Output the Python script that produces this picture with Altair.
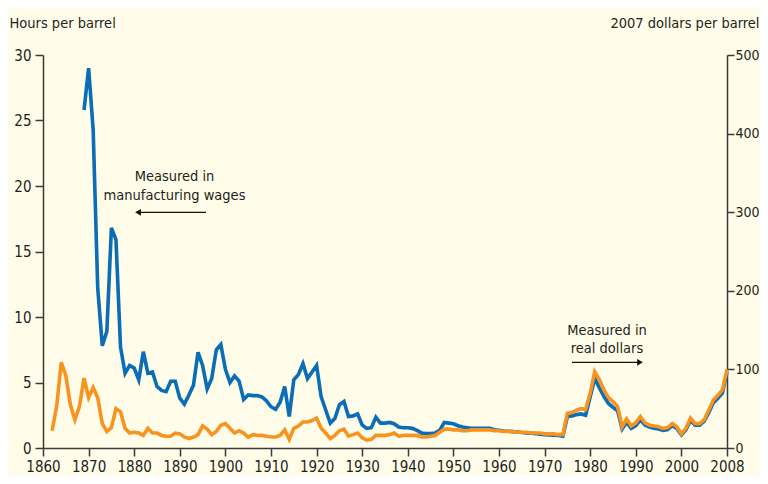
import altair as alt
import pandas as pd

# ---- data ----
orange_start = 1862  # 2007 dollars per barrel (right axis)
orange_dollars = [
    22, 53, 109, 92, 55, 36, 53, 89, 64, 77,
    64, 31, 21, 26, 50, 46, 25, 19, 20, 19,
    16, 25, 19, 19, 16, 15, 15, 19, 18, 14,
    12, 14, 17, 28, 24, 17, 21, 29, 31, 25,
    19, 22, 19, 14, 17, 16, 16, 15, 14, 14,
    16, 23, 11, 25, 28, 33, 33, 35, 38, 25,
    19, 12, 16, 22, 24, 15, 17, 19, 13, 10,
    11, 16, 16, 16, 17, 19, 15, 16, 16, 16,
    16, 14, 14, 15, 16, 20, 24, 24, 23, 23,
    22, 22, 23, 23, 23, 23, 23, 22, 22, 21,
    21, 21, 20, 20, 20, 19, 19, 19, 18, 18,
    18, 17, 17, 44, 45, 48, 50, 49, 70, 97,
    87, 74, 64, 59, 53, 27, 37, 28, 32, 40,
    32, 29, 28, 27, 25, 26, 31, 27, 18, 25,
    38, 31, 31, 36, 48, 61, 67, 74, 100,
]

blue_start = 1869  # hours of manufacturing work per barrel (left axis)
blue_hours = [
    25.8, 29.0, 24.3, 12.2, 7.8, 8.9, 16.8, 15.9, 7.7, 5.7,
    6.3, 6.1, 5.2, 7.35, 5.7, 5.8, 4.7, 4.4, 4.3, 5.1,
    5.1, 3.8, 3.35, 4.05, 4.8, 7.3, 6.3, 4.5, 5.3, 7.5,
    7.9, 6.0, 5.0, 5.5, 5.1, 3.7, 4.05, 4.0, 4.0, 3.9,
    3.6, 3.15, 2.95, 3.5, 4.7, 2.4, 5.2, 5.6, 6.45, 5.3,
    5.8, 6.3, 3.9, 2.9, 1.9, 2.25, 3.3, 3.55, 2.4, 2.45,
    2.6, 1.75, 1.5, 1.55, 2.35, 1.9, 1.9, 1.95, 1.85, 1.6,
    1.55, 1.55, 1.5, 1.35, 1.15, 1.1, 1.1, 1.15, 1.35, 1.95,
    1.9, 1.85, 1.7, 1.6, 1.55, 1.5, 1.5, 1.5, 1.5, 1.5,
    1.4, 1.35, 1.3, 1.28, 1.25, 1.22, 1.18, 1.15, 1.12, 1.1,
    1.05, 1.02, 1.0, 0.98, 0.95, 0.9, 2.4, 2.45, 2.55, 2.6,
    2.5, 3.9, 5.3, 4.6, 3.95, 3.4, 3.1, 2.85, 1.45, 1.95,
    1.5, 1.7, 2.15, 1.75, 1.6, 1.5, 1.45, 1.35, 1.4, 1.7,
    1.5, 1.0, 1.4, 2.1, 1.75, 1.75, 2.05, 2.7, 3.45, 3.8,
    4.2, 5.8,
]

x_ticks = [1860, 1870, 1880, 1890, 1900, 1910, 1920, 1930, 1940, 1950,
           1960, 1970, 1980, 1990, 2000, 2010]
left_ticks = [0, 5, 10, 15, 20, 25, 30]
right_ticks = [0, 100, 200, 300, 400, 500]

orange_df = pd.DataFrame({
    "year": list(range(orange_start, orange_start + len(orange_dollars))),
    "dollars": orange_dollars,
})
blue_df = pd.DataFrame({
    "year": list(range(blue_start, blue_start + len(blue_hours))),
    "hours": blue_hours,
})

FONT = "DejaVu Sans Condensed, Liberation Sans Narrow, Roboto, sans-serif"
TXT = "#231f20"
AX = "#3a3a3a"
BLUE = "#0a6db5"
ORANGE = "#f7931e"

W, H = 684, 393

x_enc = alt.X(
    "year:Q",
    scale=alt.Scale(domain=[1860, 2010], nice=False, zero=False),
    axis=alt.Axis(
        values=x_ticks, format="d",
        labelExpr="datum.value == 2010 ? '2008' : datum.label",
        title=None, grid=False, tickSize=8, tickWidth=1.5, tickColor=AX,
        domainColor=AX, domainWidth=1.5, labelFontSize=15, labelFont=FONT,
        labelColor=TXT, labelPadding=3, labelOverlap=False, labelFlush=False,
    ),
)

blue_line = alt.Chart(blue_df).mark_line(
    color=BLUE, strokeWidth=3.6, strokeJoin="miter"
).encode(
    x=x_enc,
    y=alt.Y(
        "hours:Q",
        scale=alt.Scale(domain=[0, 30], nice=False),
        axis=alt.Axis(
            values=left_ticks, orient="left", grid=False, tickSize=8,
            tickWidth=1.5, tickColor=AX, domainColor=AX, domainWidth=1.5,
            labelFontSize=15, labelFont=FONT, labelColor=TXT, labelPadding=4,
            title="Hours per barrel", titleAngle=0, titleFont=FONT,
            titleFontSize=14.5, titleFontWeight="normal", titleColor=TXT,
            titleAlign="left", titleBaseline="middle", titleX=-34, titleY=-32,
        ),
    ),
)

orange_line = alt.Chart(orange_df).mark_line(
    color=ORANGE, strokeWidth=3.6, strokeJoin="miter"
).encode(
    x=x_enc,
    y=alt.Y(
        "dollars:Q",
        scale=alt.Scale(domain=[0, 500], nice=False),
        axis=alt.Axis(
            values=right_ticks, orient="right", grid=False, tickSize=7,
            tickWidth=1.5, tickColor=AX, domainColor=AX, domainWidth=1.5,
            labelFontSize=14, labelFont=FONT, labelColor=TXT, labelPadding=1,
            title="2007 dollars per barrel", titleAngle=0, titleFont=FONT,
            titleFontSize=14.5, titleFontWeight="normal", titleColor=TXT,
            titleAlign="right", titleBaseline="middle", titleX=32, titleY=-32,
        ),
    ),
)

one = pd.DataFrame({"k": [0]})


def label(x, y, text):
    return alt.Chart(one).mark_text(
        text=text, font=FONT, fontSize=14.5, color=TXT, align="center",
        baseline="middle",
    ).encode(x=alt.value(x), y=alt.value(y))


def arrow(x1, x2, y, head_x, shape):
    rule = alt.Chart(one).mark_rule(color="#111", strokeWidth=1.2).encode(
        x=alt.value(x1), x2=alt.value(x2), y=alt.value(y)
    )
    head = alt.Chart(one).mark_point(
        shape=shape, filled=True, color="#111", size=45, opacity=1
    ).encode(x=alt.value(head_x), y=alt.value(y))
    return rule + head


annotations = (
    label(131.5, 122.3, "Measured in")
    + label(131.5, 140.7, "manufacturing wages")
    + arrow(96, 163, 157.3, 95, "triangle-left")
    + label(564, 275.7, "Measured in")
    + label(564, 294.3, "real dollars")
    + arrow(529, 596, 307.3, 597, "triangle-right")
)

chart = (
    alt.layer(blue_line, orange_line)
    .resolve_scale(y="independent")
)
chart = alt.layer(chart, annotations).properties(
    width=W, height=H,
    background="#fffde9",
    padding={"left": 35, "top": 47, "right": 33, "bottom": 28},
    autosize=alt.AutoSizeParams(type="none"),
).configure_view(stroke=None)

chart.save("out.html", embed_options={"renderer": "svg", "actions": False})
